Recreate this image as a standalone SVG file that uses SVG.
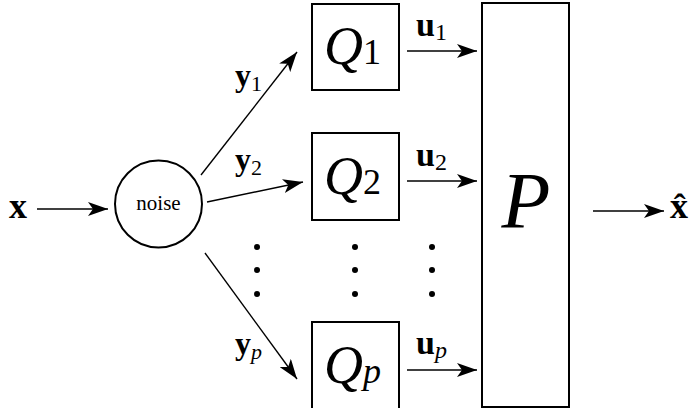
<svg xmlns="http://www.w3.org/2000/svg" width="695" height="408" viewBox="0 0 695 408">
<style>
.box{fill:none;stroke:#000;stroke-width:2}
.ln{fill:none;stroke:#000;stroke-width:1.4}
.t{font-family:"Liberation Serif","DejaVu Serif",serif;fill:#000}
.b{font-weight:bold}
.cal{font-family:"Liberation Serif","DejaVu Serif",serif;font-style:italic;fill:#000}
</style>
<defs>
<marker id="ah" markerUnits="userSpaceOnUse" markerWidth="22" markerHeight="14" viewBox="0 0 22 14" refX="20" refY="7" orient="auto">
<path d="M0,0 L20,7 L0,14 L5,7 Z" fill="#000"/>
</marker>
</defs>
<g id="connectors">
<line class="ln" x1="37" y1="209" x2="108" y2="209" marker-end="url(#ah)"/>
<line class="ln" x1="201" y1="175" x2="297" y2="52" marker-end="url(#ah)"/>
<line class="ln" x1="207" y1="202" x2="303" y2="182" marker-end="url(#ah)"/>
<line class="ln" x1="205" y1="253" x2="297" y2="379" marker-end="url(#ah)"/>
<line class="ln" x1="407" y1="51" x2="477" y2="51" marker-end="url(#ah)"/>
<line class="ln" x1="407" y1="181" x2="477" y2="181" marker-end="url(#ah)"/>
<line class="ln" x1="407" y1="370" x2="477" y2="370" marker-end="url(#ah)"/>
<line class="ln" x1="593" y1="211" x2="664" y2="211" marker-end="url(#ah)"/>
<text class="t b" x="235" y="86" font-size="32">y<tspan font-weight="normal" font-size="22" dy="5">1</tspan></text>
<text class="t b" x="235" y="170" font-size="32">y<tspan font-weight="normal" font-size="22" dy="5">2</tspan></text>
<text class="t b" x="235" y="354" font-size="32">y<tspan font-weight="normal" font-style="italic" font-size="22" dy="5">p</tspan></text>
<text class="t b" x="416" y="36" font-size="34">u<tspan font-weight="normal" font-size="24" dy="4">1</tspan></text>
<text class="t b" x="416" y="166" font-size="34">u<tspan font-weight="normal" font-size="24" dy="4">2</tspan></text>
<text class="t b" x="416" y="354" font-size="34">u<tspan font-weight="normal" font-style="italic" font-size="24" dy="4">p</tspan></text>
</g>
<g id="input">
<text class="t b" x="9" y="218" font-size="36">x</text>
</g>
<g id="noise">
<circle cx="158.5" cy="204" r="43.5" class="box"/>
<text class="t" x="158.5" y="210" font-size="21" text-anchor="middle">noise</text>
</g>
<g id="Q1">
<rect class="box" x="312" y="4" width="87" height="86"/>
<text class="cal" x="324" y="64" font-size="54">Q<tspan font-style="normal" font-size="36">1</tspan></text>
</g>
<g id="Q2">
<rect class="box" x="312" y="133" width="87" height="87"/>
<text class="cal" x="324" y="194" font-size="54">Q<tspan font-style="normal" font-size="36">2</tspan></text>
</g>
<g id="Qp">
<rect class="box" x="312" y="322" width="87" height="90"/>
<text class="cal" x="324" y="383" font-size="54">Q<tspan font-size="36">p</tspan></text>
</g>
<g id="dots" fill="#000">
<circle cx="257" cy="247" r="3"/><circle cx="257" cy="270" r="3"/><circle cx="257" cy="294" r="3"/>
<circle cx="355" cy="247" r="3"/><circle cx="355" cy="270" r="3"/><circle cx="355" cy="294" r="3"/>
<circle cx="432" cy="247" r="3"/><circle cx="432" cy="270" r="3"/><circle cx="432" cy="294" r="3"/>
</g>
<g id="P">
<rect class="box" x="482" y="3" width="87" height="404"/>
<text class="cal" x="526" y="228" font-size="80" text-anchor="middle">P</text>
</g>
<g id="output">
<text class="t b" x="670" y="218" font-size="36">x̂</text>
</g>
</svg>
